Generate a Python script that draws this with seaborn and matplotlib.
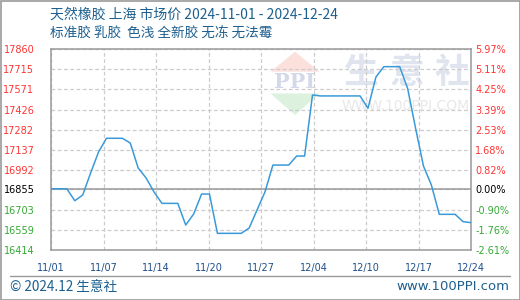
import matplotlib
matplotlib.use("Agg")
import matplotlib.pyplot as plt
from matplotlib.patches import Polygon, Rectangle
from matplotlib.lines import Line2D
import seaborn as sns
import pandas as pd
import numpy as np

# ---- data ----
dates = pd.date_range("2024-11-01", "2024-12-24", freq="D")
prices = [16855, 16855, 16855, 16769, 16810, 16969, 17120, 17219, 17219, 17219,
          17185, 17005, 16933, 16832, 16750, 16750, 16750, 16594, 16673, 16817,
          16817, 16534, 16534, 16534, 16534, 16572, 16702, 16832, 17026, 17026,
          17026, 17091, 17091, 17531, 17524, 17524, 17524, 17524, 17524, 17524,
          17435, 17660, 17735, 17735, 17735, 17579, 17293, 17019, 16882, 16671,
          16671, 16671, 16618, 16611]
base_price = 16855
ytick_vals = [17860, 17715, 17571, 17426, 17282, 17137, 16992, 16855, 16703, 16559, 16414]
pct_labels = ["5.97%", "5.11%", "4.25%", "3.39%", "2.53%", "1.68%", "0.82%",
              "0.00%", "-0.90%", "-1.76%", "-2.61%"]
xtick_labels = ["11/01", "11/07", "11/14", "11/20", "11/27", "12/04", "12/10", "12/17", "12/24"]
title1 = "天然橡胶 上海 市场价 2024-11-01 - 2024-12-24"
title2 = "标准胶 乳胶  色浅 全新胶 无冻 无法霉"
footer_left = "© 2024.12 生意社"
footer_right = "www.100PPI.com"

df = pd.DataFrame({"day": (dates - dates[0]).days, "price": prices})

sns.set_theme(style="white")
plt.rcParams["font.family"] = ["DejaVu Sans", "Noto Sans CJK SC"]
cjk = ["Noto Sans CJK SC", "DejaVu Sans"]

W, H = 520, 300
fig = plt.figure(figsize=(W / 100, H / 100), dpi=100)
fig.patch.set_facecolor("white")

def fx(px):
    return px / W

def fy(py):
    return 1 - py / H

ax = fig.add_axes([fx(51), fy(250), fx(471) - fx(51), fy(49.3) - fy(250)])
ax.set_facecolor("white")
ax.set_axisbelow(True)

# watermark
tf = fig.transFigure
ax.add_patch(Polygon([(fx(295), fy(51.7)), (fx(270.5), fy(71.7)), (fx(319.5), fy(71.7))],
                     closed=True, transform=tf, facecolor="#fbe0dc", edgecolor="none", zorder=0.1))
ax.add_patch(Polygon([(fx(270.5), fy(93.5)), (fx(319.5), fy(93.5)), (fx(295), fy(115))],
                     closed=True, transform=tf, facecolor="#dcf1de", edgecolor="none", zorder=0.1))
ax.text(fx(295), fy(82), "PPI", transform=tf, ha="center", va="center", fontsize=15,
        family="DejaVu Serif", weight="bold", color="#d3d9e8", zorder=0.1)
for cx, ch in zip([361, 407, 452], "生意社"):
    ax.text(fx(cx), fy(72), ch, transform=tf, ha="center", va="center", fontsize=25,
            family=cjk, weight="bold", color="#e0e4ee", zorder=0.1)
ax.text(fx(406), fy(106), "WWW.100PPI.COM", transform=tf, ha="center", va="center",
        fontsize=10, color="#e8e8e8", zorder=0.1)

sns.lineplot(data=df, x="day", y="price", ax=ax, color="#3a9ad9", linewidth=1.1, zorder=3)

ax.set_xlim(0, df["day"].max())
ax.set_ylim(ytick_vals[-1], ytick_vals[0])
ax.axhline(base_price, color="#999999", lw=1.1, zorder=2)

xt = np.linspace(0, df["day"].max(), len(xtick_labels))
ax.set_xticks(xt)
ax.set_xticklabels(xtick_labels)
ax.set_yticks(ytick_vals)
ax.set_yticklabels([str(v) for v in ytick_vals])
ax.grid(True, axis="both", color="#cccccc", linestyle=(0, (3, 2)), linewidth=0.9)
ax.set_xlabel("")
ax.set_ylabel("")

def ycol(v):
    if v > base_price:
        return "#ff3333"
    if v < base_price:
        return "#33aa33"
    return "#000000"

ax.tick_params(axis="y", length=0, pad=12, labelsize=7)
ax.tick_params(axis="x", length=0, pad=9, labelsize=7, labelcolor="#1f4f8a")
for lab, v in zip(ax.get_yticklabels(), ytick_vals):
    lab.set_color(ycol(v))

for s in ax.spines.values():
    s.set_color("#999999")
    s.set_linewidth(1.1)

ax2 = ax.twinx()
ax2.set_ylim(ax.get_ylim())
ax2.set_yticks(ytick_vals)
ax2.set_yticklabels(pct_labels)
ax2.tick_params(axis="y", length=0, pad=3, labelsize=7)
for lab, v in zip(ax2.get_yticklabels(), ytick_vals):
    lab.set_color(ycol(v))
ax2.grid(False)
for s in ax2.spines.values():
    s.set_visible(False)

# titles
tcol = "#1d5f8e"
fig.text(fx(50), fy(14.5), title1, ha="left", va="center", fontsize=10, color=tcol, family=cjk)
fig.text(fx(50), fy(33.5), title2, ha="left", va="center", fontsize=9.8, color=tcol, family=cjk)

# footer
fig.add_artist(Line2D([fx(10), fx(510)], [fy(276), fy(276)], transform=tf, color="#999999", lw=1))
fig.text(fx(10), fy(287), footer_left, ha="left", va="center", fontsize=9.8, color=tcol, family=cjk)
fig.text(fx(509), fy(287), footer_right, ha="right", va="center", fontsize=9.5, color=tcol)

# outer border
fig.add_artist(Rectangle((0.5 / W, 0.5 / H), 1 - 1 / W, 1 - 1 / H, transform=tf,
                         fill=False, edgecolor="#999999", lw=1.2))

fig.savefig("out.png", dpi=100)
